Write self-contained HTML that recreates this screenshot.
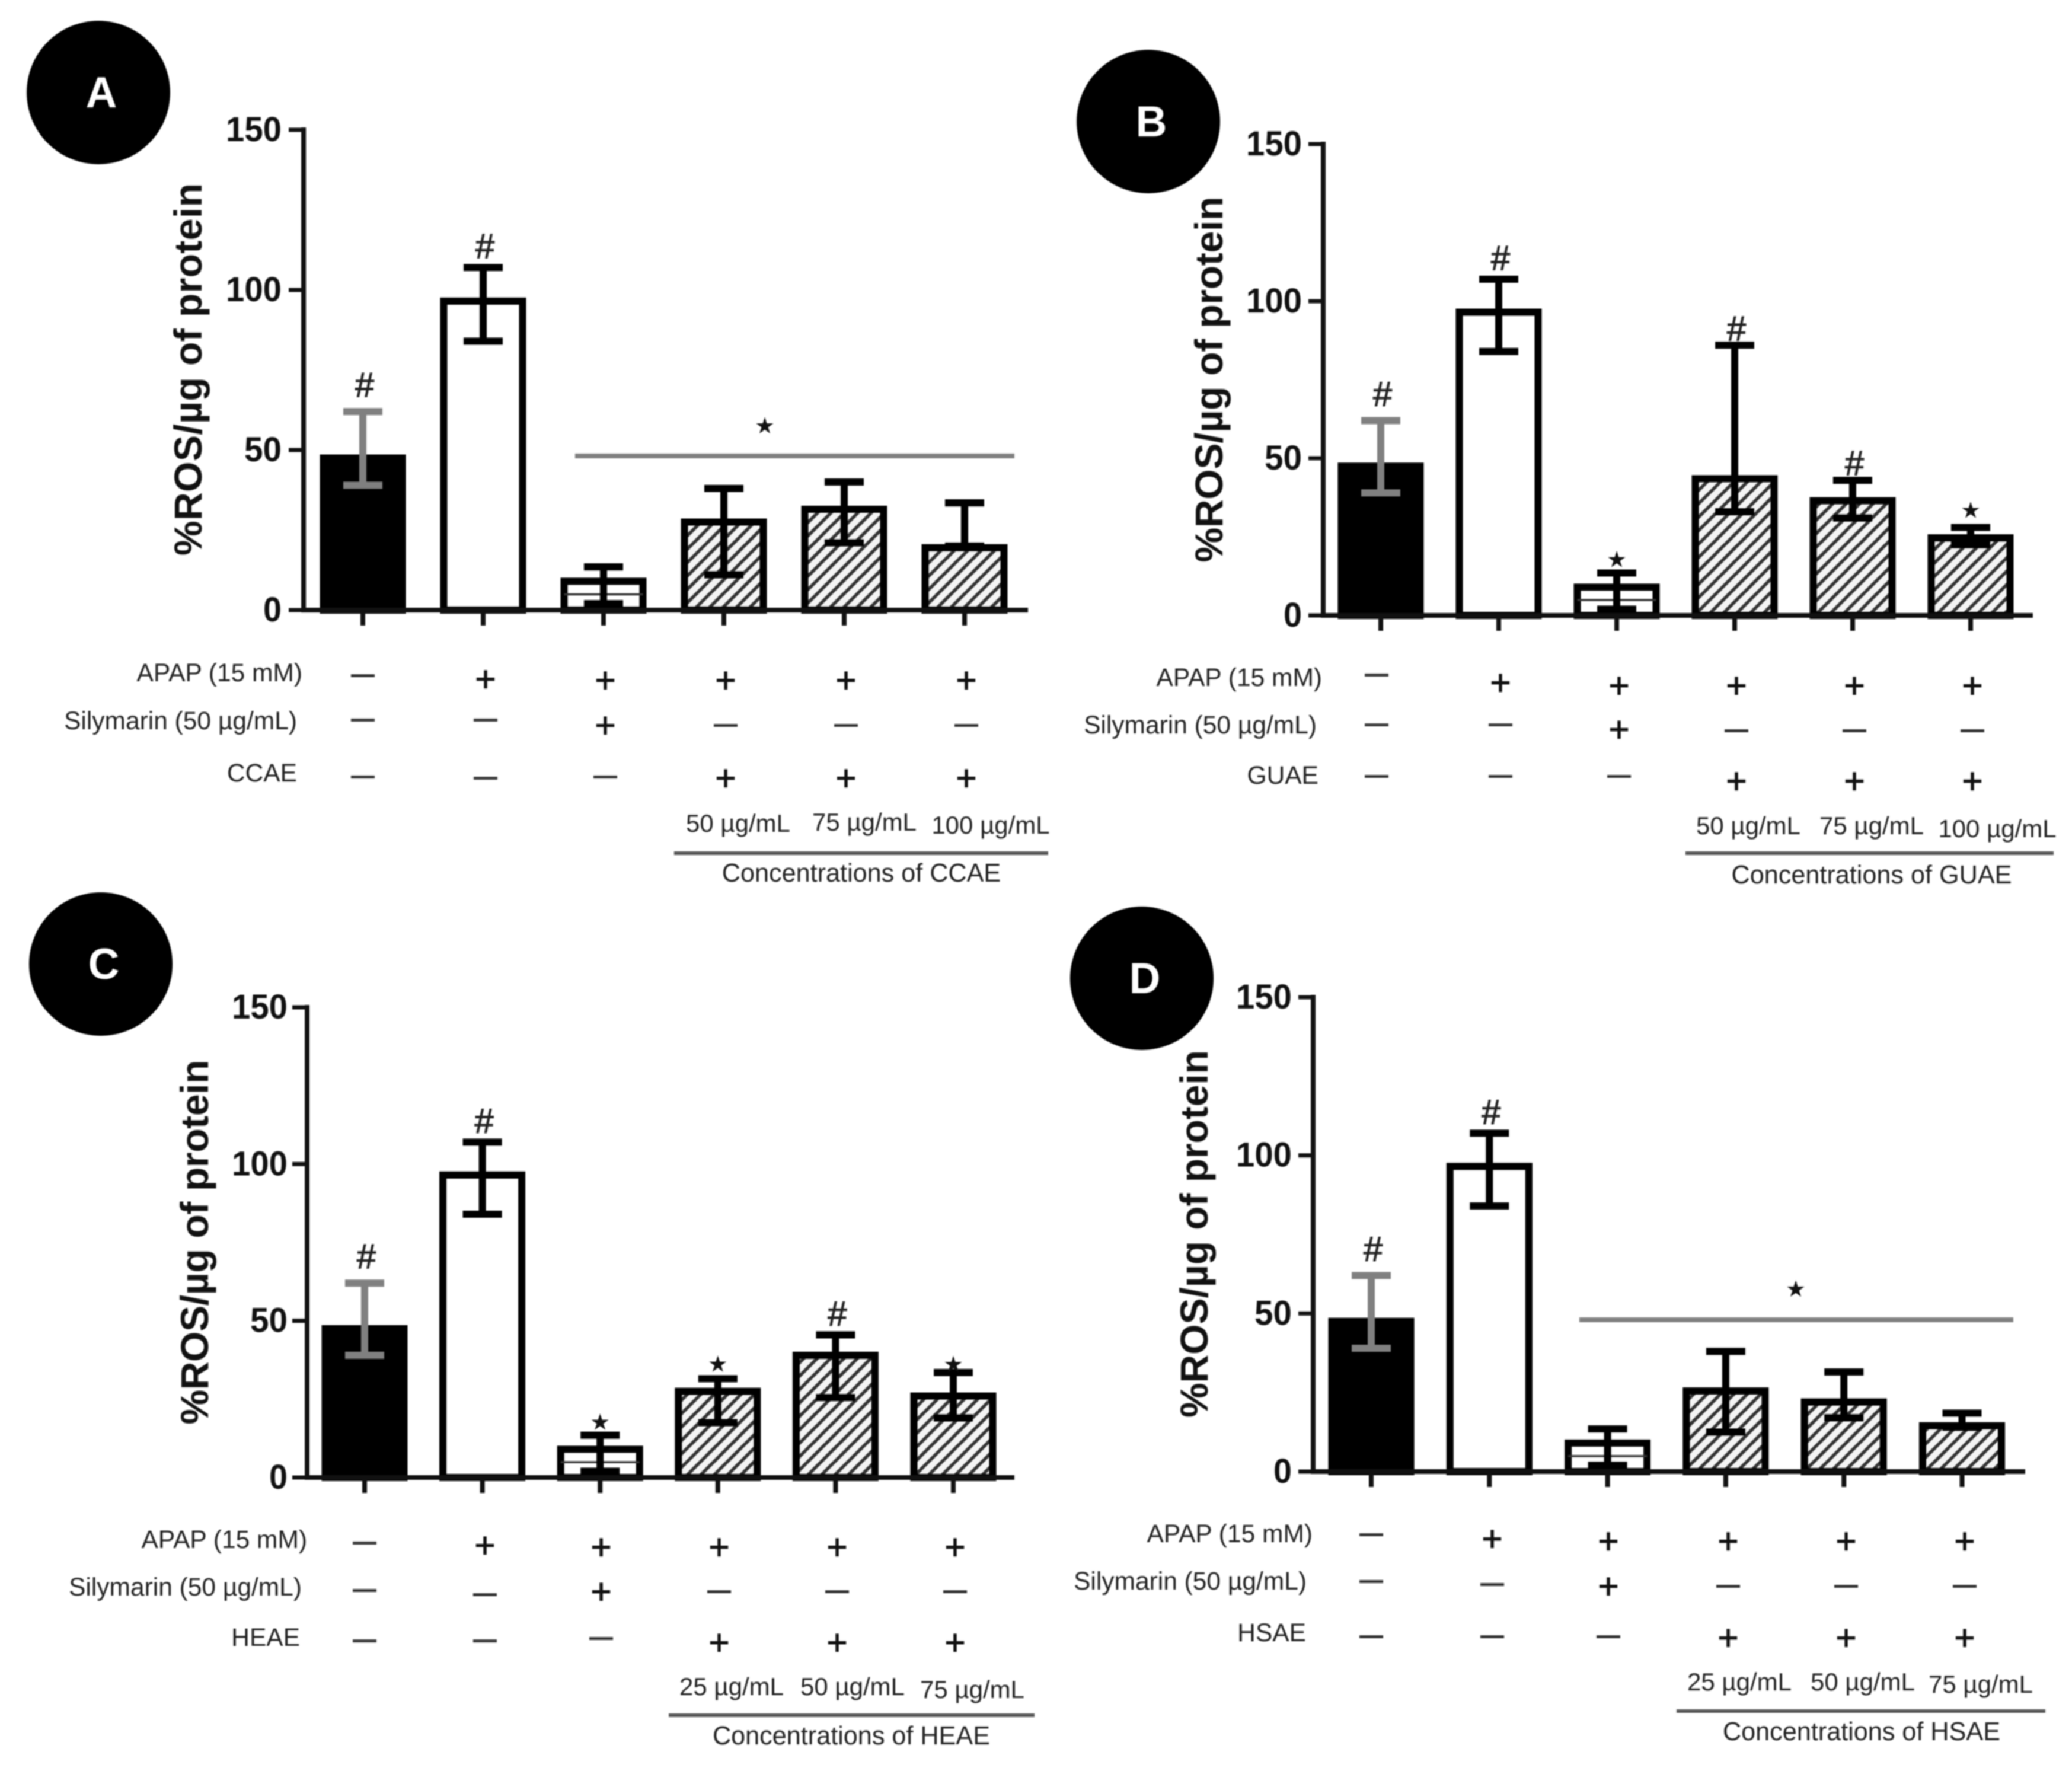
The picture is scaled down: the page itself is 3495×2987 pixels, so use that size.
<!DOCTYPE html>
<html lang="en">
<head>
<meta charset="utf-8">
<title>ROS levels by treatment</title>
<style>
html,body{margin:0;padding:0;background:#fff;}
svg{display:block;filter:blur(1.1px);}
text{font-family:"Liberation Sans",sans-serif;}
</style>
</head>
<body>
<svg id="figure" xmlns="http://www.w3.org/2000/svg" width="3495" height="2987" viewBox="0 0 3495 2987">
<defs>
<pattern id="hatch" patternUnits="userSpaceOnUse" width="16" height="16" patternTransform="rotate(45)">
<rect width="16" height="16" fill="#f4f4f4"></rect>
<rect width="5.5" height="16" fill="#333"></rect>
</pattern>
</defs>
</svg>
<script>
const categories = ['Control', 'APAP', 'Silymarin', 'Dose 1', 'Dose 2', 'Dose 3'];
const yTicks = [0, 50, 100, 150];
const yMax = 150;
const rowNames = ['APAP (15 mM)', 'Silymarin (50 µg/mL)'];
const rowApap = ['-', '+', '+', '+', '+', '+'];
const rowSilymarin = ['-', '-', '+', '-', '-', '-'];
const rowExtract = ['-', '-', '-', '+', '+', '+'];

const meansA = [47.5, 96.5, 9, 27.5, 31.5, 19.5];
const upperA = [62, 107, 13.5, 38, 40, 33.5];
const lowerA = [39, 84, 2, 11, 21, 20];
const annotationsA = ['#', '#', '', '', '', ''];
const dosesA = ['50 µg/mL', '75 µg/mL', '100 µg/mL'];

const meansB = [47.5, 96.5, 9, 43.5, 36.5, 24.7];
const upperB = [62, 107, 13.5, 86, 43, 28];
const lowerB = [39, 84, 2, 33, 31, 22.5];
const annotationsB = ['#', '#', '*', '#', '#', '*'];
const dosesB = ['50 µg/mL', '75 µg/mL', '100 µg/mL'];

const meansC = [47.5, 96.5, 9, 27.5, 39, 26];
const upperC = [62, 107, 13.5, 31.5, 45.5, 33.5];
const lowerC = [39, 84, 2, 17.5, 25.5, 19];
const annotationsC = ['#', '#', '*', '*', '#', '*'];
const dosesC = ['25 µg/mL', '50 µg/mL', '75 µg/mL'];

const meansD = [47.5, 96.5, 9, 25.5, 22, 14.5];
const upperD = [62, 107, 13.5, 38, 31.5, 18.5];
const lowerD = [39, 84, 2, 12.5, 17, 14];
const annotationsD = ['#', '#', '', '', '', ''];
const dosesD = ['25 µg/mL', '50 µg/mL', '75 µg/mL'];

const panels = [
  {id: 'A', extract: 'CCAE', means: meansA, upper: upperA, lower: lowerA, notes: annotationsA, doses: dosesA,
   layout: {cx: 166, cy: 156, axisX: 512, y0: 1029, y150: 219, endX: 1734, firstTick: 612, tickStep: 203,
     tickLabelX: 475, titleX: 340, titleY: 623, titleLen: 628, labelX: [509, 500, 500], labelY: [1134, 1215, 1303],
     markX: [612, 819, 1021, 1224, 1427, 1630],
     markY: [[1139, 1145, 1147, 1147, 1147, 1147], [1214, 1214, 1223, 1223, 1223, 1223], [1310, 1312, 1310, 1312, 1312, 1312]],
     doseX: [1245, 1458, 1671], doseY: [1388, 1386, 1391], lineX: [1137, 1768], lineY: 1439, concX: 1453, concY: 1472,
     noteDy: [-45, -36, -24, -24, -24, -24],
     span: [970, 1711, 769], spanStar: [1290, 717]}},
  {id: 'B', extract: 'GUAE', means: meansB, upper: upperB, lower: lowerB, notes: annotationsB, doses: dosesB,
   layout: {cx: 1937, cy: 205, axisX: 2232, y0: 1038, y150: 243, endX: 3429, firstTick: 2329, tickStep: 199,
     tickLabelX: 2196, titleX: 2062, titleY: 640, titleLen: 617, labelX: [2229, 2220, 2223], labelY: [1142, 1222, 1307],
     markX: [2322, 2531, 2731, 2929, 3128, 3327],
     markY: [[1138, 1151, 1156, 1156, 1156, 1156], [1222, 1222, 1230, 1232, 1232, 1232], [1309, 1309, 1309, 1317, 1317, 1317]],
     doseX: [2949, 3157, 3369], doseY: [1392, 1392, 1397], lineX: [2843, 3464], lineY: 1439, concX: 3157, concY: 1475,
     noteDy: [-45, -36, -24, -28, -29, -30]}},
  {id: 'C', extract: 'HEAE', means: meansC, upper: upperC, lower: lowerC, notes: annotationsC, doses: dosesC,
   layout: {cx: 170, cy: 1626, axisX: 518, y0: 2492, y150: 1699, endX: 1711, firstTick: 615, tickStep: 198.6,
     tickLabelX: 485, titleX: 351, titleY: 2095, titleLen: 615, labelX: [517, 508, 505], labelY: [2596, 2676, 2761],
     markX: [615, 818, 1014, 1213, 1412, 1611],
     markY: [[2602, 2606, 2609, 2609, 2609, 2609], [2682, 2689, 2684, 2684, 2684, 2684], [2767, 2767, 2763, 2770, 2770, 2770]],
     doseX: [1234, 1438, 1640], doseY: [2844, 2844, 2849], lineX: [1128, 1745], lineY: 2893, concX: 1436, concY: 2927,
     noteDy: [-45, -36, -23, -26, -36, -15]}},
  {id: 'D', extract: 'HSAE', means: meansD, upper: upperD, lower: lowerD, notes: annotationsD, doses: dosesD,
   layout: {cx: 1926, cy: 1650, axisX: 2215, y0: 2482, y150: 1682, endX: 3416, firstTick: 2313, tickStep: 199.3,
     tickLabelX: 2179, titleX: 2037, titleY: 2081, titleLen: 620, labelX: [2213, 2203, 2202], labelY: [2586, 2666, 2753],
     markX: [2313, 2517, 2713, 2915, 3114, 3314],
     markY: [[2588, 2595, 2599, 2599, 2599, 2599], [2667, 2672, 2675, 2675, 2675, 2675], [2760, 2760, 2760, 2762, 2762, 2762]],
     doseX: [2934, 3142, 3341], doseY: [2836, 2836, 2840], lineX: [2828, 3450], lineY: 2886, concX: 3140, concY: 2920,
     noteDy: [-45, -36, -24, -24, -24, -24],
     span: [2664, 3396, 2226], spanStar: [3029, 2173]}}
];

const NS = 'http://www.w3.org/2000/svg';
const root = document.getElementById('figure');

function make(parent, tag, props, content) {
  const el = document.createElementNS(NS, tag);
  for (const k in props) el.setAttribute(k, props[k]);
  if (content !== undefined) el.textContent = content;
  parent.appendChild(el);
  return el;
}

function drawPanel(p) {
  const L = p.layout;
  const yScale = v => L.y0 - (v / yMax) * (L.y0 - L.y150);
  const xScale = i => L.firstTick + i * L.tickStep;

  const g = make(root, 'g', {});
  
  

  const badge = make(g, 'ellipse', {cx: L.cx, cy: L.cy, rx: 121, ry: 121, fill: '#000'});
  
  
  const badgeText = make(g, 'text', {x: L.cx + 5, y: L.cy + 25, 'text-anchor': 'middle', 'font-size': 73, 'font-weight': 700, fill: '#fff'}, p.id);
  
  

  const title = make(g, 'text', {
    x: 0, y: 0, transform: 'translate(' + L.titleX + ' ' + L.titleY + ') rotate(-90)',
    'text-anchor': 'middle', 'font-size': 66, 'font-weight': 700, fill: '#111',
    textLength: L.titleLen, lengthAdjust: 'spacing'
  }, '%ROS/µg of protein');
  
  

  categories.forEach((name, i) => {
    const cx = xScale(i);
    const bw = 133;
    const top = yScale(p.means[i]);
    const fill = i === 0 ? '#000' : (i < 3 ? '#fff' : 'url(#hatch)');
    const bar = make(g, 'rect', {x: cx - bw / 2, y: top, width: bw, height: L.y0 - top, fill: fill, stroke: '#000', 'stroke-width': 12});
    
    

    if (i === 2) {
      const stripe = make(g, 'rect', {x: cx - bw / 2, y: yScale(p.means[i] * 0.55) - 1.5, width: bw, height: 3.5, fill: '#333'});
      
      
    }

    const errColor = i === 0 ? '#808080' : '#000';
    const yUp = yScale(p.upper[i]);
    const yLow = yScale(p.lower[i]);
    const stem = make(g, 'rect', {x: cx - 6, y: yUp, width: 12, height: yLow - yUp, fill: errColor});
    
    
    const capUp = make(g, 'rect', {x: cx - 33, y: yUp - 6, width: 66, height: 12, fill: errColor});
    
    
    const capLow = make(g, 'rect', {x: cx - 33, y: yLow - 6, width: 66, height: 12, fill: errColor});
    
    

    const tick = make(g, 'rect', {x: cx - 4, y: L.y0, width: 8, height: 26, fill: '#111'});
    
    

    const note = p.notes[i];
    if (note) {
      const ny = yUp + L.noteDy[i];
      const noteEl = note === '#'
        ? make(g, 'text', {x: cx + 3, y: ny + 20, 'text-anchor': 'middle', 'font-size': 58, fill: '#222', stroke: '#222', 'stroke-width': 1.2}, '#')
        : make(g, 'text', {x: cx, y: ny + 14, 'text-anchor': 'middle', 'font-size': 38, fill: '#111', style: 'font-family:"DejaVu Sans",sans-serif'}, '★');
      
      
    }
  });

  const xAxis = make(g, 'rect', {x: L.axisX - 4, y: L.y0 - 4, width: L.endX - L.axisX + 4, height: 8, fill: '#111'});
  
  
  const yAxis = make(g, 'rect', {x: L.axisX - 4, y: L.y150 - 4, width: 8, height: L.y0 - L.y150 + 8, fill: '#111'});
  
  

  yTicks.forEach(v => {
    const y = yScale(v);
    const t = make(g, 'rect', {x: L.axisX - 25, y: y - 3.5, width: 25, height: 7, fill: '#111'});
    
    
    const lab = make(g, 'text', {x: L.tickLabelX, y: y + 19, 'text-anchor': 'end', 'font-size': 58, 'font-weight': 700, fill: '#111', textLength: v === 0 ? 31 : (v < 100 ? 63 : 94), lengthAdjust: 'spacingAndGlyphs'}, String(v));
    
    
  });

  if (L.span) {
    const span = make(g, 'rect', {x: L.span[0], y: L.span[2] - 4, width: L.span[1] - L.span[0], height: 8, fill: '#808080'});
    
    
    const star = make(g, 'text', {x: L.spanStar[0], y: L.spanStar[1] + 14, 'text-anchor': 'middle', 'font-size': 38, fill: '#111', style: 'font-family:"DejaVu Sans",sans-serif'}, '★');
    
    
  }

  const rowLabels = [rowNames[0], rowNames[1], p.extract];
  const rowValues = [rowApap, rowSilymarin, rowExtract];
  rowLabels.forEach((label, r) => {
    const lab = make(g, 'text', {x: L.labelX[r] + 1, y: L.labelY[r] + 15, 'text-anchor': 'end', 'font-size': 42.5, fill: '#222'}, label);
    
    
    rowValues[r].forEach((val, i) => {
      const x = L.markX[i];
      const y = L.markY[r][i];
      const mark = val === '+'
        ? make(g, 'text', {x: x, y: y + 21, 'text-anchor': 'middle', 'font-size': 60, fill: '#111', stroke: '#111', 'stroke-width': 1.2}, '+')
        : make(g, 'text', {x: x, y: y + 19, 'text-anchor': 'middle', 'font-size': 72, fill: '#333'}, '–');
      
      
    });
  });

  p.doses.forEach((d, i) => {
    const t = make(g, 'text', {x: L.doseX[i], y: L.doseY[i] + 15, 'text-anchor': 'middle', 'font-size': 42, fill: '#222'}, d);
    
    
  });
  const bracket = make(g, 'rect', {x: L.lineX[0], y: L.lineY - 3, width: L.lineX[1] - L.lineX[0], height: 6, fill: '#555'});
  
  
  const conc = make(g, 'text', {x: L.concX, y: L.concY + 15, 'text-anchor': 'middle', 'font-size': 43.2, fill: '#222'}, 'Concentrations of ' + p.extract);
  
  
}

panels.forEach(drawPanel);
</script>
</body>
</html>
